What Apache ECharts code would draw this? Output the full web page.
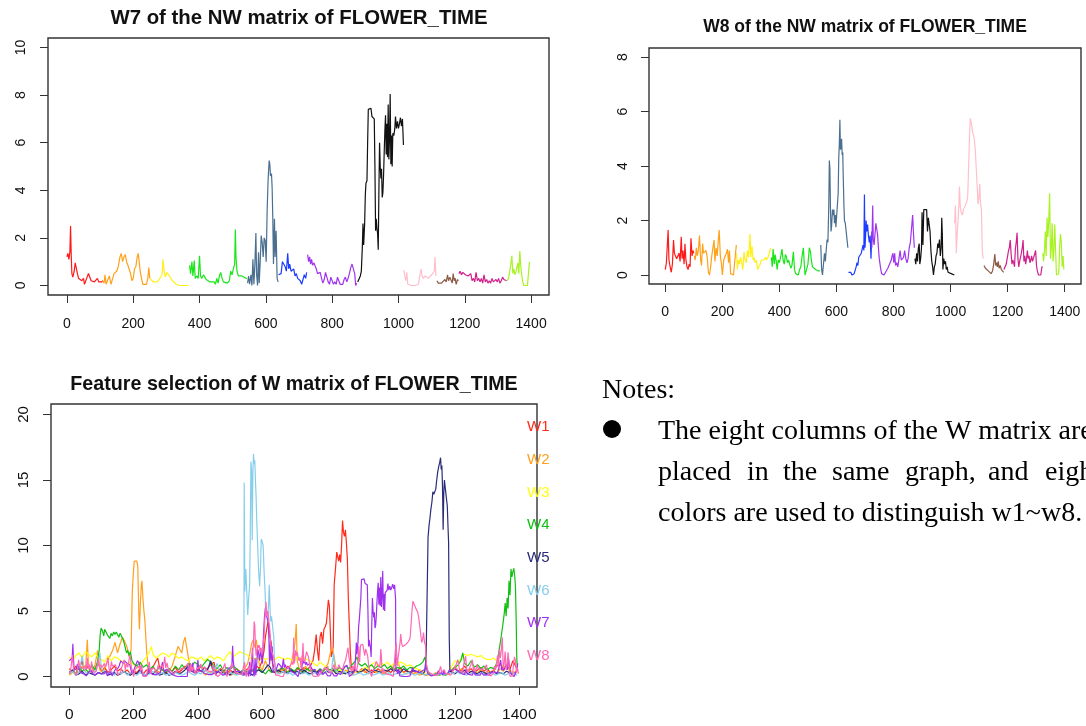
<!DOCTYPE html>
<html>
<head>
<meta charset="utf-8">
<script src="https://cdn.jsdelivr.net/npm/echarts@6/dist/echarts.min.js"></script>
<style>
html,body{margin:0;padding:0;background:#fff;}
#main{width:1086px;height:726px;}
</style>
</head>
<body>
<div id="main"></div>
<script>
// ---------- tick labels ----------
const xTicks = [0, 200, 400, 600, 800, 1000, 1200, 1400];
const yTicksW7 = [0, 2, 4, 6, 8, 10];
const yTicksW8 = [0, 2, 4, 6, 8];
const yTicksAll = [0, 5, 10, 15, 20];

// ---------- W7 of the NW matrix (segments by chromosome colour) ----------
const w7Red = [[0,1.2],[3,1.35],[6,1.1],[9,1.4],[11,2.5],[13,1.3],[15,0.5],[18,0.35],[22,0.6],[25,0.95],[28,0.9],[31,0.55],[35,0.3],[40,0.25],[45,0.2],[50,0.3],[53,0.05],[57,0.1],[61,0.35],[65,0.5],[69,0.45],[73,0.2],[78,0.25],[83,0.15],[88,0.2],[92,0.3],[96,0.15],[100,0.2],[105,0.15],[108,0.2]];
const w7Orange = [[108,0.2],[112,0.1],[115,0.45],[118,0.05],[122,0.05],[128,0.4],[133,0.05],[138,0.3],[142,0.5],[146,0.45],[150,0.6],[155,0.8],[160,1.2],[164,1.35],[168,1.0],[172,1.2],[176,1.3],[180,1.0],[184,0.85],[188,0.9],[192,0.5],[196,0.2],[200,0.3],[204,0.7],[208,0.8],[212,1.2],[215,1.35],[218,1.0],[221,0.6],[225,0.3],[229,0.05],[235,0.05],[240,0.05],[244,0.3],[247,0.75],[250,0.3]];
const w7Yellow = [[250,0.3],[255,0.25],[260,0.15],[266,0.2],[272,0.15],[278,0.25],[283,0.3],[287,0.45],[290,1.1],[293,0.6],[297,0.35],[301,0.55],[305,0.6],[309,0.4],[313,0.35],[318,0.2],[324,0.15],[330,0.05],[338,0],[348,0],[358,0],[367,0]];
const w7Green = [[370,0.85],[373,0.5],[377,1.0],[380,0.4],[384,1.05],[387,0.3],[392,0.4],[396,0.3],[400,1.25],[403,0.4],[407,0.3],[412,0.45],[416,0.35],[420,0.25],[426,0.2],[432,0.15],[438,0.1],[444,0.15],[448,0.05],[452,0.3],[456,0.1],[460,0.4],[464,0.55],[468,0.3],[472,0.15],[478,0.1],[484,0.1],[490,0.2],[494,0.6],[498,0.45],[502,0.7],[506,0.9],[508,2.35],[510,1.2],[513,0.6],[517,0.4],[522,0.35],[528,0.4],[534,0.35],[540,0.3],[543,0.3]];
const w7Steel = [[545,0.1],[548,0.4],[551,0.05],[555,0.45],[558,0.0],[561,1.1],[564,0.05],[567,0.9],[570,2.2],[572,0.5],[575,0.0],[578,1.4],[580,0.1],[583,1.0],[586,2.1],[589,1.8],[592,1.2],[595,2.0],[598,1.9],[601,1.0],[604,3.2],[607,4.5],[610,5.25],[612,5.1],[614,4.6],[617,4.7],[619,4.1],[621,2.8],[623,0.9],[626,2.8],[628,1.2],[631,2.3],[634,0.3],[637,0.15]];
const w7Blue = [[638,0.45],[642,0.4],[646,0.5],[650,1.0],[654,0.95],[658,0.8],[662,0.6],[666,1.35],[669,0.7],[672,0.9],[676,0.6],[680,0.55],[684,0.7],[688,0.4],[692,0.5],[696,0.3],[700,0.35],[704,0.2],[708,0.05],[712,0.0],[716,0.45],[720,0.3],[723,0.55]];
const w7Purple = [[726,1.3],[729,1.0],[732,1.2],[735,0.9],[738,1.1],[741,0.85],[745,0.95],[748,1.0],[752,0.7],[756,0.5],[760,0.45],[764,0.55],[768,0.3],[772,0.1],[776,0.25],[780,0.55],[784,0.35],[788,0.15],[792,0.05],[796,0.35],[800,0.3],[804,0.05],[808,0.15],[812,0.05],[816,0.35],[820,0.2],[824,0.05],[828,0.0],[832,0.05],[836,0.25],[840,0.35],[844,0.15],[848,0.3],[852,0.5],[856,0.75],[860,0.9],[864,0.85],[868,0.5],[871,0.0],[874,0.1]];
const w7Black = [[877,0.15],[881,0.2],[885,0.4],[888,0.6],[891,1.6],[893,2.6],[895,1.7],[898,2.6],[900,3.8],[902,4.3],[905,4.4],[907,6.0],[909,7.4],[913,7.45],[917,7.45],[920,7.1],[924,7.05],[927,7.0],[929,5.0],[931,2.3],[933,2.8],[935,2.4],[937,2.2],[939,1.5],[941,4.0],[943,6.0],[945,5.0],[947,4.5],[949,4.9],[951,3.7],[953,3.9],[955,4.6],[957,5.6],[959,6.5],[961,7.15],[963,5.5],[965,6.8],[967,5.4],[969,7.6],[971,5.3],[973,6.2],[975,8.05],[977,5.1],[979,6.3],[981,5.0],[983,6.4],[986,6.3],[989,6.6],[991,7.1],[994,6.6],[997,6.9],[1000,6.6],[1003,6.8],[1006,7.05],[1009,6.7],[1012,7.0],[1015,5.9]];
const w7Pink = [[1016,0.65],[1019,0.4],[1022,0.2],[1025,0.55],[1028,0.05],[1032,0.0],[1040,0.0],[1050,0.0],[1060,0.05],[1065,0.1],[1068,0.7],[1071,0.4],[1075,0.3],[1080,0.4],[1085,0.35],[1090,0.3],[1095,0.35],[1100,0.45],[1105,0.4],[1108,0.6],[1110,1.2],[1113,0.4]];
const w7Brown = [[1116,0.2],[1120,0.1],[1125,0.05],[1130,0.1],[1135,0.1],[1140,0.25],[1144,0.15],[1148,0.45],[1151,0.2],[1155,0.35],[1158,0.3],[1162,0.1],[1165,0.5],[1168,0.2],[1171,0.3],[1174,0.05],[1178,0.25],[1181,0.2]];
const w7Magenta = [[1182,0.5],[1186,0.6],[1190,0.45],[1194,0.55],[1198,0.6],[1202,0.45],[1206,0.5],[1210,0.4],[1214,0.35],[1218,0.5],[1222,0.2],[1226,0.3],[1230,0.15],[1234,0.55],[1238,0.2],[1242,0.3],[1246,0.15],[1250,0.3],[1254,0.1],[1258,0.45],[1262,0.15],[1266,0.25],[1270,0.1],[1274,0.2],[1278,0.1],[1282,0.3],[1286,0.15],[1290,0.1],[1294,0.25],[1298,0.15],[1302,0.3],[1306,0.1],[1310,0.2],[1314,0.35],[1318,0.25],[1322,0.3],[1326,0.2]];
const w7Lime = [[1328,0.2],[1332,0.3],[1336,0.35],[1339,0.9],[1342,1.25],[1345,0.5],[1348,0.7],[1351,0.45],[1354,0.55],[1357,0.6],[1360,0.95],[1363,0.5],[1366,1.45],[1369,0.8],[1372,0.4],[1375,0.15],[1378,0.0],[1384,0.0],[1389,0.0],[1392,0.5],[1395,1.0]];

// ---------- W8 of the NW matrix ----------
const w8Red = [[0,0.2],[4,0.45],[7,0.4],[10,1.65],[13,0.55],[17,0.3],[21,0.1],[25,0.4],[29,1.28],[32,0.8],[36,0.75],[40,0.6],[44,0.55],[48,0.8],[52,0.5],[56,1.4],[59,0.6],[62,0.9],[66,0.4],[69,1.15],[72,0.6],[76,0.3],[80,0.2],[84,0.4],[87,0.3],[90,1.35],[94,0.7],[97,0.9],[100,0.8]];
const w8Orange = [[102,0.7],[105,0.55],[109,1.0],[112,0.7],[116,0.9],[120,1.45],[124,0.55],[127,0.35],[131,1.15],[134,0.8],[139,0.85],[143,0.9],[147,0.65],[151,0.1],[155,0.0],[159,0.3],[163,0.7],[167,1.0],[171,1.28],[174,0.5],[178,1.0],[182,0.7],[186,1.3],[189,1.65],[193,0.7],[197,0.4],[200,0.0],[205,0.55],[210,0.7],[214,0.8],[218,0.95],[222,0.45],[225,0.9],[229,0.05],[233,0.0],[239,0.0],[245,0.0],[249,1.1]];
const w8Yellow = [[250,0.8],[253,0.2],[256,0.55],[260,0.4],[264,0.65],[268,0.45],[272,0.2],[276,0.85],[280,0.55],[284,0.45],[288,0.9],[292,0.65],[297,1.5],[300,0.65],[304,1.05],[308,0.55],[311,0.65],[315,0.45],[319,0.55],[324,0.2],[328,0.3],[333,0.4],[337,0.55],[342,0.5],[346,0.55],[351,0.65],[355,0.55],[360,0.65],[365,0.8],[369,1.0]];
const w8Green = [[372,0.65],[375,0.3],[378,0.95],[382,0.4],[385,0.75],[389,0.5],[392,0.2],[396,0.55],[400,0.45],[405,0.7],[409,0.95],[413,0.55],[417,0.4],[421,0.75],[425,0.65],[428,0.45],[432,0.55],[436,0.4],[440,0.25],[444,0.35],[449,0.85],[453,0.2],[457,0.05],[462,0.0],[466,0.0],[471,0.2],[475,0.3],[479,0.65],[484,1.0],[487,0.45],[490,0.0],[495,0.0],[500,0.4],[505,1.0],[509,0.85],[512,0.55],[516,0.3],[522,0.25],[527,0.2],[532,0.2],[537,0.15],[542,0.15]];
const w8Steel = [[545,1.1],[548,0.2],[551,0.0],[555,0.0],[558,0.8],[561,0.5],[564,0.9],[567,1.3],[570,1.2],[573,2.5],[575,4.2],[577,3.9],[579,2.4],[581,1.6],[583,1.8],[586,2.4],[589,2.2],[591,2.4],[593,1.9],[596,2.2],[598,1.75],[601,1.8],[603,1.75],[606,3.0],[608,4.3],[610,4.8],[612,5.7],[614,4.6],[616,4.7],[618,5.0],[620,4.4],[622,4.5],[624,3.5],[626,2.6],[628,2.0],[631,1.9],[634,1.6],[637,1.3],[640,1.0]];
const w8Blue = [[642,0.1],[646,0.05],[650,0.1],[654,0.0],[658,0.0],[662,0.05],[666,0.0],[669,0.3],[672,0.45],[675,0.35],[678,0.65],[681,0.7],[684,0.65],[687,0.8],[690,0.75],[693,1.1],[696,0.9],[698,2.95],[700,1.0],[702,1.4],[704,2.0],[706,1.6],[709,1.85],[712,1.45],[715,1.2],[718,1.45],[721,0.6],[724,1.6]];
const w8Purple = [[724,1.0],[727,2.55],[729,1.3],[732,1.1],[735,1.5],[738,1.9],[741,1.85],[744,1.5],[747,1.0],[750,0.6],[754,0.3],[758,0.05],[762,0.0],[767,0.0],[772,0.1],[776,0.05],[780,0.25],[784,0.3],[788,0.45],[792,0.55],[795,0.7],[798,0.8],[801,0.45],[804,0.8],[807,0.35],[811,0.45],[815,0.3],[819,0.6],[823,0.9],[827,0.55],[831,0.5],[835,0.65],[839,0.9],[843,0.6],[847,0.45],[851,0.6],[855,1.0],[859,1.2],[863,1.7],[867,2.2],[870,1.5],[873,1.0]];
const w8Black = [[875,0.6],[878,0.4],[881,0.8],[884,0.5],[887,1.0],[890,1.15],[892,0.4],[895,0.6],[898,1.0],[900,2.3],[903,1.1],[906,2.4],[909,2.45],[913,2.45],[916,2.4],[919,1.6],[922,2.1],[925,2.1],[928,1.6],[931,0.9],[934,0.5],[937,0.3],[940,0.0],[943,0.3],[946,0.4],[949,0.7],[952,0.8],[955,1.15],[958,1.0],[961,1.3],[964,0.7],[967,1.0],[969,2.1],[971,1.5],[973,0.2],[976,0.6],[979,0.4],[982,0.5],[985,0.2],[988,0.3],[991,0.1],[996,0.15],[1002,0.05],[1008,0.0],[1013,0.0]];
const w8Pink = [[1014,1.9],[1017,2.55],[1020,0.8],[1023,1.5],[1026,2.0],[1029,2.6],[1031,3.25],[1034,2.5],[1037,2.3],[1041,2.2],[1045,2.4],[1049,2.5],[1053,2.6],[1057,2.7],[1060,2.9],[1063,3.9],[1066,5.0],[1069,5.75],[1072,5.6],[1075,5.4],[1078,5.2],[1081,5.1],[1084,4.9],[1087,4.5],[1090,3.9],[1093,3.3],[1096,2.6],[1099,2.8],[1102,3.35],[1105,2.6],[1108,2.4],[1111,0.9],[1114,0.6]];
const w8Brown = [[1117,0.35],[1122,0.25],[1127,0.2],[1132,0.15],[1137,0.1],[1142,0.05],[1147,0.15],[1151,0.4],[1155,0.77],[1158,0.35],[1161,0.45],[1164,0.3],[1167,0.5],[1170,0.25],[1174,0.35],[1178,0.2],[1182,0.15],[1186,0.1]];
const w8Magenta = [[1187,0.2],[1191,0.3],[1195,0.4],[1199,0.65],[1203,0.9],[1206,1.0],[1209,1.28],[1212,0.8],[1215,0.4],[1218,0.55],[1221,0.45],[1224,0.3],[1227,0.95],[1230,1.2],[1233,1.55],[1236,0.6],[1239,0.3],[1242,0.5],[1245,0.65],[1248,0.8],[1251,1.0],[1254,1.28],[1257,0.5],[1260,0.7],[1263,0.4],[1266,0.6],[1269,0.9],[1272,0.6],[1275,0.7],[1278,0.45],[1281,0.55],[1284,0.7],[1287,0.5],[1290,0.6],[1293,0.55],[1296,0.65],[1298,0.9],[1301,0.35],[1304,0.15],[1308,0.0],[1312,0.05],[1316,0.0],[1320,0.3],[1323,0.3]];
const w8Lime = [[1323,0.8],[1326,0.5],[1329,0.9],[1332,1.6],[1335,0.7],[1338,2.1],[1341,1.4],[1344,2.0],[1347,3.0],[1350,0.6],[1353,1.0],[1356,1.9],[1359,0.5],[1362,0.9],[1365,1.85],[1368,0.9],[1371,0.0],[1375,0.0],[1379,0.05],[1382,1.0],[1385,1.5],[1388,1.2],[1391,0.3],[1394,0.7],[1397,0.2]];

// ---------- Feature selection: W1..W6 columns ----------
const fsW1 = [[0,0.6],[10,0.3],[20,0.8],[30,0.5],[40,1.2],[45,0.6],[50,0.4],[60,0.9],[70,0.3],[80,0.6],[90,1.0],[100,0.4],[110,0.7],[120,0.3],[130,0.5],[140,0.8],[150,0.4],[160,0.6],[170,0.3],[180,0.5],[190,0.2],[200,0.4],[210,0.3],[220,0.6],[230,0.2],[240,0.5],[250,0.3],[260,0.7],[270,1.2],[275,1.4],[280,0.8],[290,0.5],[300,0.3],[310,0.6],[320,0.4],[330,0.7],[340,0.3],[350,0.5],[360,0.8],[370,0.4],[380,0.6],[390,0.3],[400,0.5],[410,0.8],[420,0.4],[430,0.6],[440,0.9],[450,1.1],[455,0.5],[460,0.3],[470,0.6],[480,0.4],[490,0.2],[500,0.5],[510,0.3],[520,0.6],[530,0.4],[540,0.2],[550,0.5],[560,0.7],[570,0.4],[580,0.9],[590,0.6],[600,1.2],[606,2.0],[610,3.0],[614,3.6],[618,4.2],[621,3.8],[624,3.0],[628,2.6],[632,1.0],[640,0.5],[650,0.3],[660,0.6],[670,0.4],[680,0.8],[690,0.5],[700,0.3],[710,0.6],[720,0.4],[730,0.7],[740,0.5],[750,0.8],[758,1.2],[763,2.0],[768,3.2],[772,2.0],[776,1.2],[780,3.0],[784,3.4],[788,2.5],[792,3.6],[796,3.8],[800,4.1],[803,5.0],[806,5.85],[809,5.4],[812,3.5],[815,1.5],[818,1.8],[821,2.3],[824,7.0],[828,8.2],[832,9.5],[835,9.6],[838,8.8],[841,9.3],[844,8.7],[847,10.0],[850,11.9],[853,11.0],[856,10.7],[859,11.2],[862,10.2],[865,9.0],[868,6.0],[871,4.0],[874,2.0],[877,0.8],[880,0.3],[890,0.5],[900,0.3],[910,0.6],[920,0.4],[930,0.2],[940,0.5],[950,0.3],[960,0.6],[970,0.4],[980,0.2],[990,0.5],[1000,0.3],[1010,0.6],[1020,0.4],[1030,0.7],[1040,0.3],[1050,0.5],[1060,0.2],[1070,0.4],[1080,0.3],[1090,0.5],[1100,0.2],[1110,0.1],[1120,0.2],[1130,0.1],[1140,0.2],[1150,0.1],[1160,0.2],[1170,0.1],[1180,0.2],[1190,0.4],[1200,0.6],[1210,0.3],[1220,0.5],[1230,0.8],[1240,0.4],[1250,0.6],[1260,0.3],[1270,0.5],[1280,0.7],[1290,0.4],[1300,0.6],[1310,0.3],[1320,0.5],[1330,0.8],[1340,1.0],[1350,0.6],[1360,0.9],[1370,0.5],[1380,1.2],[1390,0.7]];
const fsW2 = [[0,0.1],[10,0.3],[20,0.6],[30,0.2],[40,0.8],[50,0.4],[56,2.8],[60,0.6],[70,0.3],[80,0.9],[88,2.0],[95,0.5],[105,0.3],[115,1.0],[125,1.5],[135,2.0],[142,2.6],[150,1.8],[158,2.5],[165,3.0],[172,2.7],[180,2.2],[186,1.5],[192,2.0],[196,6.5],[199,7.8],[202,8.8],[206,8.85],[210,8.8],[213,8.4],[216,5.0],[218,3.6],[221,5.5],[224,7.0],[226,7.3],[229,6.0],[232,5.0],[235,4.3],[238,3.0],[241,1.8],[245,0.8],[250,0.4],[260,0.2],[270,0.5],[280,0.3],[290,0.6],[300,0.2],[310,0.4],[320,0.8],[330,1.6],[338,2.3],[345,2.0],[350,1.8],[355,2.6],[360,3.0],[365,2.9],[370,1.5],[375,0.8],[385,0.4],[395,0.2],[405,0.5],[415,0.3],[425,0.1],[435,0.4],[445,0.2],[455,0.6],[465,0.3],[475,0.2],[485,0.5],[495,0.3],[505,0.1],[515,0.4],[525,0.2],[535,0.3],[545,0.6],[555,1.0],[562,1.8],[567,2.5],[572,2.8],[577,2.2],[582,2.8],[587,1.5],[592,0.8],[600,0.5],[610,1.2],[620,0.6],[630,0.3],[640,0.5],[650,0.2],[660,0.4],[670,0.7],[680,0.3],[690,1.0],[697,1.8],[702,2.5],[706,4.0],[709,1.2],[715,0.6],[725,0.3],[735,0.8],[745,0.4],[755,0.6],[765,0.3],[775,0.5],[785,0.2],[795,0.6],[805,1.0],[812,1.8],[818,2.2],[824,1.5],[830,0.6],[840,0.3],[850,0.2],[860,0.5],[870,0.3],[880,0.1],[890,0.4],[900,0.2],[910,0.5],[920,0.3],[930,0.6],[940,0.2],[950,0.4],[960,0.3],[970,0.5],[980,0.2],[990,0.4],[1000,0.6],[1010,0.8],[1018,1.4],[1024,1.0],[1030,0.5],[1040,0.3],[1050,0.2],[1060,0.4],[1070,0.2],[1080,0.3],[1090,0.1],[1100,0.2],[1110,0.1],[1120,0.2],[1130,0.1],[1140,0.3],[1150,0.1],[1160,0.2],[1170,0.1],[1180,0.3],[1190,0.5],[1200,0.8],[1210,0.4],[1220,0.6],[1230,0.3],[1240,0.5],[1250,0.2],[1260,0.4],[1270,0.3],[1280,0.5],[1290,0.2],[1300,0.4],[1310,0.3],[1320,0.5],[1330,0.2],[1340,0.6],[1350,0.4],[1360,0.8],[1370,0.5],[1380,0.3],[1390,0.4]];
const fsW3 = [[0,1.5],[10,1.2],[20,1.6],[30,1.8],[40,1.4],[50,1.9],[60,1.7],[70,1.5],[80,1.8],[90,1.4],[100,1.3],[110,1.1],[120,1.6],[130,1.2],[140,1.5],[150,1.4],[160,1.2],[170,1.0],[180,0.8],[190,1.1],[200,0.9],[210,0.6],[220,0.8],[230,1.2],[240,1.5],[250,1.9],[255,2.3],[260,1.7],[270,1.4],[280,1.6],[290,1.8],[300,1.7],[310,1.5],[320,1.8],[330,1.6],[340,1.4],[350,1.5],[360,1.3],[370,1.2],[380,1.5],[390,1.4],[400,1.3],[410,1.5],[420,1.2],[430,1.4],[440,1.6],[450,1.3],[460,1.5],[470,1.4],[480,1.2],[490,1.6],[500,1.9],[510,1.5],[520,1.7],[530,1.9],[540,1.8],[550,1.7],[560,1.5],[570,1.3],[580,1.4],[590,1.2],[600,1.5],[610,1.3],[620,1.4],[630,1.2],[640,1.3],[650,1.5],[660,1.4],[670,1.3],[680,1.4],[690,1.3],[700,1.2],[710,1.5],[720,1.3],[730,1.4],[740,1.3],[750,1.2],[760,1.0],[770,0.8],[780,1.1],[790,0.9],[800,0.7],[810,0.5],[820,0.4],[830,0.3],[840,0.5],[850,0.4],[860,0.3],[870,0.5],[880,0.6],[890,0.4],[900,0.3],[910,0.5],[920,0.7],[930,0.6],[940,0.9],[950,1.1],[960,0.8],[970,1.0],[980,0.9],[990,1.1],[1000,0.8],[1010,1.0],[1020,0.9],[1030,1.1],[1040,1.0],[1050,0.8],[1060,0.9],[1070,0.7],[1080,0.6],[1090,0.5],[1100,0.4],[1110,0.2],[1120,0.1],[1130,0.1],[1140,0.1],[1150,0.1],[1160,0.2],[1170,0.1],[1180,0.3],[1190,0.8],[1200,1.2],[1210,1.1],[1220,1.4],[1230,1.7],[1240,1.6],[1250,1.7],[1260,1.6],[1270,1.5],[1280,1.6],[1290,1.4],[1300,1.3],[1310,1.3],[1320,1.4],[1330,1.2],[1340,1.0],[1350,0.8],[1360,0.6],[1370,0.4],[1380,0.3],[1390,0.2]];
const fsW4 = [[0,0.3],[10,0.5],[20,0.2],[30,0.8],[40,0.4],[50,0.6],[60,0.3],[70,0.9],[80,0.5],[88,1.2],[93,2.0],[96,3.2],[99,3.7],[103,3.5],[107,3.1],[110,3.6],[114,3.7],[118,3.2],[122,3.3],[126,2.9],[130,3.3],[134,3.1],[138,3.4],[142,3.2],[146,3.4],[150,3.3],[154,3.0],[158,3.3],[162,3.2],[166,2.9],[170,2.6],[174,2.2],[178,1.8],[182,2.0],[186,1.6],[190,1.9],[195,1.2],[200,1.0],[210,0.8],[220,1.1],[230,0.7],[240,0.9],[250,0.5],[260,0.8],[270,0.4],[280,0.7],[290,0.5],[300,0.3],[310,0.6],[320,0.4],[330,0.8],[340,0.5],[350,0.9],[360,0.6],[370,1.0],[380,0.8],[390,1.1],[400,0.9],[410,0.7],[420,1.0],[430,1.3],[440,1.1],[450,0.8],[460,0.6],[470,0.9],[480,0.4],[490,0.7],[500,0.5],[510,0.8],[520,0.6],[530,0.3],[540,0.5],[550,0.4],[560,0.2],[570,0.5],[580,0.3],[590,0.6],[600,0.4],[610,0.2],[620,0.5],[630,0.3],[640,0.6],[650,0.4],[660,0.7],[670,0.5],[680,0.3],[690,0.6],[700,0.4],[710,0.7],[720,0.5],[730,0.3],[740,0.6],[750,0.4],[760,0.5],[770,0.3],[780,0.6],[790,0.4],[800,0.7],[810,0.5],[820,0.6],[830,0.4],[840,0.7],[850,0.5],[860,0.8],[870,0.6],[880,0.9],[890,1.2],[895,1.5],[900,1.0],[910,0.8],[920,1.0],[930,0.7],[940,0.9],[950,0.6],[960,0.8],[970,0.7],[980,0.9],[990,0.6],[1000,0.8],[1010,0.5],[1020,0.7],[1030,0.6],[1040,0.8],[1050,0.5],[1060,0.7],[1070,0.6],[1080,0.8],[1090,0.9],[1100,1.1],[1106,1.5],[1112,0.6],[1120,0.2],[1130,0.1],[1140,0.2],[1150,0.1],[1160,0.2],[1170,0.1],[1180,0.3],[1190,0.5],[1200,0.7],[1210,0.9],[1218,1.2],[1224,1.8],[1230,1.0],[1240,0.8],[1250,1.2],[1260,0.7],[1270,0.9],[1280,0.6],[1290,0.8],[1300,0.5],[1310,0.7],[1320,0.6],[1326,0.8],[1332,1.2],[1337,2.0],[1341,2.6],[1345,3.3],[1349,4.0],[1353,4.8],[1356,5.6],[1359,4.6],[1362,6.0],[1365,5.2],[1368,7.3],[1371,6.2],[1374,8.2],[1377,7.6],[1380,8.0],[1383,8.25],[1386,7.6],[1388,6.8],[1390,4.6],[1392,1.5],[1394,0.6]];
const fsW5 = [[0,0.3],[10,0.5],[20,0.1],[30,0.2],[40,0.4],[50,0.1],[60,0.3],[70,0.2],[80,0.1],[90,0.3],[100,0.2],[110,0.4],[120,0.1],[130,0.2],[140,0.3],[150,0.1],[160,0.2],[170,0.4],[180,0.2],[190,0.1],[200,0.3],[210,0.2],[220,0.5],[230,0.2],[240,0.1],[250,0.3],[260,0.2],[270,0.4],[280,0.1],[290,0.2],[300,0.3],[310,0.1],[320,0.2],[330,0.4],[340,0.2],[350,0.3],[360,0.5],[370,0.8],[380,0.4],[390,0.3],[400,0.6],[410,0.4],[420,0.7],[430,0.5],[440,1.2],[445,0.6],[450,0.4],[460,0.3],[470,0.5],[480,0.2],[490,0.3],[500,0.1],[510,0.4],[520,0.2],[530,0.3],[540,0.1],[550,0.2],[560,0.3],[570,0.1],[580,0.4],[590,0.5],[600,0.3],[610,0.6],[618,0.9],[625,0.7],[630,0.4],[640,0.3],[650,0.5],[660,0.3],[670,0.4],[680,0.2],[690,0.5],[700,0.3],[710,0.4],[720,0.2],[730,0.5],[740,0.3],[750,0.2],[760,0.4],[770,0.3],[780,0.5],[790,0.2],[800,0.4],[810,0.3],[820,0.5],[830,0.2],[840,0.4],[850,0.3],[860,0.2],[870,0.4],[880,0.3],[890,0.5],[900,0.3],[910,0.4],[920,0.6],[930,0.4],[940,0.3],[950,0.5],[960,0.4],[970,0.3],[980,0.5],[990,0.4],[1000,0.6],[1010,0.4],[1020,0.5],[1030,0.3],[1040,0.6],[1050,0.4],[1060,0.3],[1070,0.5],[1080,0.4],[1090,0.3],[1100,0.2],[1106,0.4],[1110,1.5],[1113,6.0],[1116,10.6],[1119,11.5],[1122,12.1],[1125,12.8],[1128,13.3],[1131,14.1],[1134,13.9],[1137,13.8],[1140,14.3],[1143,15.0],[1146,15.6],[1149,16.0],[1152,16.3],[1155,16.7],[1157,15.8],[1159,16.1],[1161,14.5],[1163,11.2],[1165,14.0],[1167,15.0],[1170,14.3],[1173,14.2],[1176,13.0],[1178,11.5],[1180,10.2],[1182,3.0],[1184,0.4],[1190,0.3],[1200,0.2],[1210,0.4],[1220,0.3],[1230,0.5],[1240,0.2],[1250,0.4],[1260,0.3],[1270,0.2],[1280,0.4],[1290,0.3],[1300,0.2],[1310,0.3],[1320,0.4],[1330,0.2],[1340,0.3],[1350,0.2],[1360,0.4],[1370,0.3],[1380,0.2],[1390,0.3]];
const fsW6 = [[0,0.2],[10,0.4],[20,0.1],[30,0.3],[40,1.6],[45,0.8],[50,0.3],[60,0.2],[70,0.5],[80,0.3],[90,1.0],[95,1.8],[100,0.6],[110,0.3],[120,0.2],[130,0.4],[140,0.1],[150,0.3],[160,0.2],[170,0.4],[180,0.1],[190,0.3],[200,0.2],[210,0.1],[220,0.3],[230,0.2],[240,0.1],[250,0.2],[260,0.4],[270,0.1],[280,0.2],[290,0.3],[300,0.1],[310,0.2],[320,0.1],[330,0.3],[340,0.2],[350,0.1],[360,0.2],[370,0.4],[380,0.2],[390,0.1],[400,0.3],[410,0.2],[420,0.5],[430,0.3],[440,0.2],[450,0.4],[460,1.0],[465,0.5],[470,0.3],[480,0.2],[490,0.1],[500,0.3],[510,0.2],[520,0.1],[530,0.2],[540,0.1],[543,0.3],[544,14.8],[546,6.5],[549,8.2],[552,6.5],[555,4.7],[558,6.0],[561,7.0],[563,11.0],[565,16.4],[567,15.8],[569,10.4],[571,15.5],[573,17.0],[575,16.2],[577,16.5],[579,15.0],[581,13.8],[583,12.0],[586,10.0],[589,8.0],[592,6.9],[595,8.5],[597,10.5],[600,10.3],[603,10.0],[606,8.0],[609,6.5],[611,5.0],[614,4.8],[617,4.6],[620,5.5],[622,7.0],[624,5.5],[626,4.2],[629,4.6],[633,4.5],[636,3.0],[639,0.5],[645,0.3],[655,0.2],[665,0.4],[675,0.2],[685,0.3],[695,0.1],[705,0.2],[715,0.4],[725,0.2],[735,0.3],[745,0.1],[755,0.2],[765,0.3],[775,0.1],[785,0.2],[795,0.3],[805,0.5],[815,0.3],[822,1.8],[826,0.6],[835,0.3],[845,0.2],[855,0.4],[865,0.2],[875,0.3],[885,0.1],[895,0.2],[905,0.3],[915,0.1],[925,0.2],[935,0.3],[945,0.1],[955,0.2],[965,0.3],[975,0.1],[985,0.2],[995,0.3],[1005,0.1],[1015,0.2],[1025,0.3],[1035,0.1],[1045,0.2],[1055,0.3],[1065,0.2],[1075,0.1],[1085,0.2],[1095,0.3],[1105,0.1],[1115,0.2],[1125,0.1],[1135,0.2],[1145,0.1],[1155,0.2],[1165,0.1],[1175,0.2],[1185,0.3],[1195,0.2],[1205,0.4],[1215,0.2],[1225,0.3],[1235,0.1],[1245,0.2],[1255,0.3],[1265,0.1],[1275,0.2],[1285,0.3],[1295,0.1],[1305,0.2],[1315,0.3],[1325,0.1],[1335,0.2],[1345,0.3],[1355,0.1],[1365,0.2],[1375,0.3],[1385,0.2],[1394,0.1]];

// ---------- names & colours ----------
const segColors = ['#FF1A1A', '#FFA21A', '#FFF01A', '#19E619', '#4A6F90', '#1C3CFF', '#A035F0', '#111111', '#FFC0CB', '#8C5A45', '#D0208C', '#A8F222'];
const w7Segments = [w7Red, w7Orange, w7Yellow, w7Green, w7Steel, w7Blue, w7Purple, w7Black, w7Pink, w7Brown, w7Magenta, w7Lime];
const w8Segments = [w8Red, w8Orange, w8Yellow, w8Green, w8Steel, w8Blue, w8Purple, w8Black, w8Pink, w8Brown, w8Magenta, w8Lime];
const fsNames = ['W1', 'W2', 'W3', 'W4', 'W5', 'W6', 'W7', 'W8'];
const fsColors = ['#FF2A1A', '#FFA020', '#FFFF10', '#10C010', '#2A2C7A', '#87CEEB', '#A030F0', '#FF69B4'];
const titles = ['W7 of the NW matrix of FLOWER_TIME', 'W8 of the NW matrix of FLOWER_TIME', 'Feature selection of W matrix of FLOWER_TIME'];

const fsW7 = [].concat(...w7Segments);
const fsW8 = [].concat(...w8Segments);
const fsData = [fsW1, fsW2, fsW3, fsW4, fsW5, fsW6, fsW7, fsW8];

const SANS = '"Liberation Sans", Arial, sans-serif';
const SERIF = '"Liberation Serif", "Times New Roman", serif';
const plain = v => String(v);

function xAx(gi, min, max, fs, margin) {
  return {
    gridIndex: gi, type: 'value', min: min, max: max,
    axisLine: { show: false, onZero: false }, splitLine: { show: false },
    axisTick: { show: true, length: 8, customValues: xTicks, lineStyle: { color: '#333', width: 1 } },
    axisLabel: { customValues: xTicks, formatter: plain, fontSize: fs, fontFamily: SANS, color: '#111', margin: margin }
  };
}
function yAx(gi, min, max, ticks, fs, margin) {
  return {
    gridIndex: gi, type: 'value', min: min, max: max,
    axisLine: { show: false, onZero: false }, splitLine: { show: false },
    axisTick: { show: true, length: 8, customValues: ticks, lineStyle: { color: '#333', width: 1 } },
    axisLabel: { customValues: ticks, formatter: plain, fontSize: fs, fontFamily: SANS, color: '#111', margin: margin, rotate: 90 }
  };
}
function lineSeries(name, data, color, xi) {
  return {
    name: name, type: 'line', xAxisIndex: xi, yAxisIndex: xi, data: data,
    showSymbol: false, symbol: 'none', silent: true,
    lineStyle: { color: color, width: 1.2 }, itemStyle: { color: color }
  };
}

const series = [];
w7Segments.forEach((d, i) => series.push(lineSeries('w7seg' + i, d, segColors[i], 0)));
w8Segments.forEach((d, i) => series.push(lineSeries('w8seg' + i, d, segColors[i], 1)));
fsData.forEach((d, i) => series.push(lineSeries(fsNames[i], d, fsColors[i], 2)));

const gridBox = { show: true, borderColor: '#333', borderWidth: 1.4, backgroundColor: 'transparent' };

const graphics = [];
fsNames.forEach((n, i) => {
  graphics.push({ type: 'text', x: 527, y: 427 + i * 32.7, style: { text: n, font: '15px ' + SANS, fill: fsColors[i], align: 'left', verticalAlign: 'middle' }, z: 100 });
});
graphics.push({ type: 'text', x: 602, y: 391, style: { text: 'Notes:', font: '28px ' + SERIF, fill: '#000', align: 'left', verticalAlign: 'middle' } });
graphics.push({ type: 'circle', shape: { cx: 612, cy: 429, r: 9 }, style: { fill: '#000' } });
graphics.push({ type: 'text', x: 658, y: 432, style: { text: 'The eight columns of the W matrix are', font: '28px ' + SERIF, fill: '#000', align: 'left', verticalAlign: 'middle' } });
const line2Words = ['placed', 'in', 'the', 'same', 'graph,', 'and', 'eight'];
const line2X = [658, 747, 783, 832, 905, 988, 1045];
line2Words.forEach((w, i) => {
  graphics.push({ type: 'text', x: line2X[i], y: 473, style: { text: w, font: '28px ' + SERIF, fill: '#000', align: 'left', verticalAlign: 'middle' } });
});
graphics.push({ type: 'text', x: 658, y: 514, style: { text: 'colors are used to distinguish w1~w8.', font: '28px ' + SERIF, fill: '#000', align: 'left', verticalAlign: 'middle' } });

const option = {
  animation: false,
  backgroundColor: '#ffffff',
  title: [
    { text: titles[0], left: 299, top: 8, textAlign: 'center', padding: 0, textStyle: { fontFamily: SANS, fontWeight: 'bold', fontSize: 20.4, color: '#111' } },
    { text: titles[1], left: 865, top: 18, textAlign: 'center', padding: 0, textStyle: { fontFamily: SANS, fontWeight: 'bold', fontSize: 17.5, color: '#111' } },
    { text: titles[2], left: 294, top: 375, textAlign: 'center', padding: 0, textStyle: { fontFamily: SANS, fontWeight: 'bold', fontSize: 19.7, color: '#111' } }
  ],
  grid: [
    Object.assign({ left: 48, top: 38, width: 501, height: 257 }, gridBox),
    Object.assign({ left: 649, top: 48, width: 432, height: 236 }, gridBox),
    Object.assign({ left: 51, top: 404, width: 486, height: 283 }, gridBox)
  ],
  xAxis: [
    xAx(0, -57, 1454, 14, 22),
    xAx(1, -57, 1457, 14, 21),
    xAx(2, -57, 1455, 15.5, 20)
  ],
  yAxis: [
    yAx(0, -0.4, 10.4, yTicksW7, 14, 20),
    yAx(1, -0.33, 8.33, yTicksW8, 14, 19),
    yAx(2, -0.8, 20.8, yTicksAll, 15, 20)
  ],
  graphic: graphics,
  series: series
};

const chart = echarts.init(document.getElementById('main'), null, { renderer: 'canvas', width: 1086, height: 726 });
chart.setOption(option);
</script>
</body>
</html>
